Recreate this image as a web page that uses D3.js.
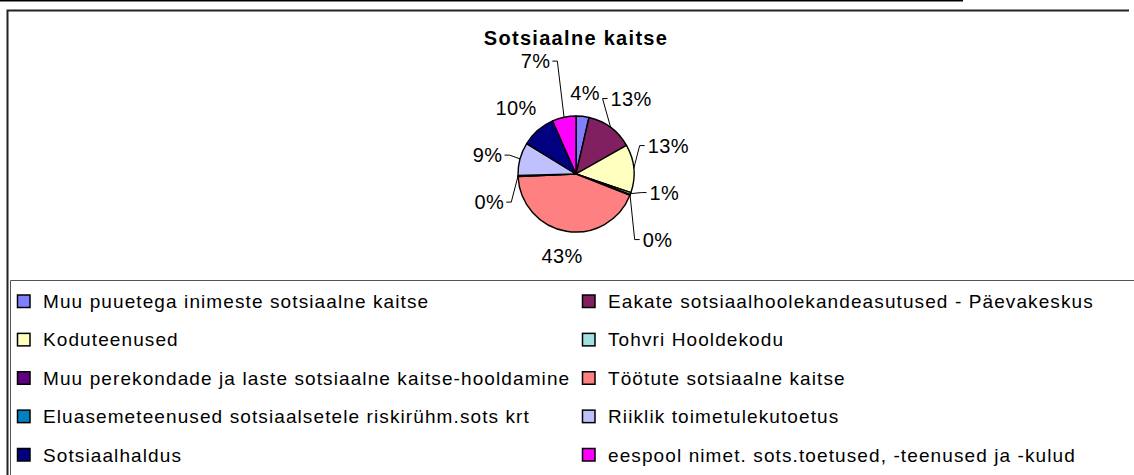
<!DOCTYPE html>
<html>
<head>
<meta charset="utf-8">
<script src="https://cdn.jsdelivr.net/npm/d3@7"></script>
<style>
  body { margin: 0; background: #fff; }
  svg text { font-family: "Liberation Sans", Arial, sans-serif; fill: #000; }
</style>
</head>
<body>
<div class="chart"></div>
<script>
  var title = "Sotsiaalne kaitse";

  var categories = [
    "Muu puuetega inimeste sotsiaalne kaitse",
    "Eakate sotsiaalhoolekandeasutused - Päevakeskus",
    "Koduteenused",
    "Tohvri Hooldekodu",
    "Muu perekondade ja laste sotsiaalne kaitse-hooldamine",
    "Töötute sotsiaalne kaitse",
    "Eluasemeteenused sotsiaalsetele riskirühm.sots krt",
    "Riiklik toimetulekutoetus",
    "Sotsiaalhaldus",
    "eespool nimet. sots.toetused, -teenused ja -kulud"
  ];

  // share of total, %
  var values = [3.6, 13.2, 13.4, 0.6, 0.2, 43.3, 0.3, 9.2, 9.6, 6.6];

  var colors = ["#8080ff", "#802060", "#ffffc0", "#a0e0e0", "#600080",
                "#ff8080", "#0080c0", "#c0c0ff", "#000080", "#ff00ff"];

  var width = 1134, height = 475;
  var cx = 576, cy = 174, radius = 58;
  var labelR = 70, minR = 74, rowGap = 47, padX = 8.3, sideGap = 20;

  var svg = d3.select(".chart").append("svg")
    .attr("width", width)
    .attr("height", height);

  // frame lines
  svg.append("rect").attr("x", 0).attr("y", 0).attr("width", 963).attr("height", 1.5).attr("fill", "#000");
  svg.append("path").attr("d", "M7.5,475V10.5H1129").attr("fill", "none")
    .attr("stroke", "#222").attr("stroke-width", 2);
  svg.append("path").attr("d", "M10.5,475V280.5H1134").attr("fill", "none")
    .attr("stroke", "#555").attr("stroke-width", 1);

  svg.append("text")
    .attr("x", 576).attr("y", 45)
    .attr("text-anchor", "middle")
    .attr("font-size", 20).attr("font-weight", "bold")
    .attr("letter-spacing", 1.3)
    .text(title);

  var arcs = d3.pie().sort(null).value(function(d){ return d; })(values);
  var arc = d3.arc().innerRadius(0).outerRadius(radius);

  var pieG = svg.append("g").attr("transform", "translate(" + cx + "," + cy + ")");
  pieG.selectAll("path")
    .data(arcs)
    .enter()
    .append("path")
    .attr("d", arc)
    .attr("fill", function(d, i){ return colors[i]; })
    .attr("stroke", "#000")
    .attr("stroke-width", 1.4)
    .attr("stroke-linejoin", "round");

  // labels: default spot just outside the slice, then stacked per side
  var labelG = svg.append("g");
  var labels = arcs.map(function(a, i){
    var mid = (a.startAngle + a.endAngle) / 2;
    var t = labelG.append("text")
      .attr("font-size", 20)
      .attr("letter-spacing", 0.4)
      .attr("text-anchor", "middle")
      .text(Math.round(a.value) + "%");
    var w = t.node().getComputedTextLength(), h = 20;
    var s = Math.sin(mid), c = Math.cos(mid);
    var rr = labelR + Math.abs(s) * w / 2 + Math.abs(c) * h / 2;
    return {i: i, mid: mid, node: t, w: w, h: h,
            right: s >= 0, x: cx + rr * s, y: cy - rr * c, y0: cy - rr * c};
  });

  function xOverlap(a, b){
    return Math.abs(a.x - b.x) < (a.w + b.w) / 2 + padX;
  }

  // push apart labels on the same side that would sit on top of each other
  for (var it = 0; it < 800; it++){
    for (var p = 0; p < labels.length; p++){
      for (var q = p + 1; q < labels.length; q++){
        var a = labels[p], b = labels[q];
        if (a.right !== b.right || !xOverlap(a, b)) continue;
        var dy = b.y - a.y;
        if (Math.abs(dy) >= rowGap) continue;
        var dir = dy > 0 || (dy === 0 && q > p) ? 1 : -1;
        var fix = (rowGap - Math.abs(dy)) / 2 * 0.5;
        a.y -= dir * fix;
        b.y += dir * fix;
      }
    }
  }

  labels.forEach(function(l){ l.moved = Math.abs(l.y - l.y0) > 3; });

  labels.forEach(function(l){
    if (!l.moved) return;
    var sign = l.right ? 1 : -1;
    // keep the moved label clear of the pie
    var yn = Math.max(0, Math.abs(l.y - cy) - l.h / 2);
    var need = yn < minR ? Math.sqrt(minR * minR - yn * yn) : 0;
    var edge = Math.abs(l.x - cx) - l.w / 2;
    if (edge < need) l.x = cx + sign * (need + l.w / 2);
    // and clear of the labels across the top / bottom
    labels.forEach(function(o){
      if (o === l || o.right === l.right) return;
      var gy = Math.abs(o.y - l.y) - (o.h + l.h) / 2;
      var gx = Math.abs(o.x - l.x) - (o.w + l.w) / 2;
      if (gy < rowGap - l.h && gx < sideGap) {
        l.x += sign * (sideGap - gx);
      }
    });
  });

  labels.forEach(function(l){
    l.node.attr("x", l.x).attr("y", l.y + 7);
    if (!l.moved) return;

    var sx = l.right ? l.x - l.w / 2 - 3 : l.x + l.w / 2 + 2;
    var kx = l.right ? sx - 5 : sx + 5;
    var px = cx + radius * Math.sin(l.mid), py = cy - radius * Math.cos(l.mid);
    labelG.append("path")
      .attr("d", "M" + sx + "," + l.y + "H" + kx + "L" + px + "," + py)
      .attr("fill", "none")
      .attr("stroke", "#000")
      .attr("stroke-width", 1);
  });

  // legend, two columns, row by row
  var col = d3.scalePoint().domain([0, 1]).range([17.5, 582.5]);
  var row = d3.scalePoint().domain(d3.range(5)).range([301.5, 455]);

  var legend = svg.append("g").selectAll("g")
    .data(categories)
    .enter()
    .append("g")
    .attr("transform", function(d, i){
      return "translate(" + col(i % 2) + "," + row(Math.floor(i / 2)) + ")";
    });

  legend.append("rect")
    .attr("x", 0).attr("y", -6.5)
    .attr("width", 12.5).attr("height", 12.5)
    .attr("fill", function(d, i){ return colors[i]; })
    .attr("stroke", "#000")
    .attr("stroke-width", 1.5);

  legend.append("text")
    .attr("x", 25.5).attr("y", 6.5)
    .attr("font-size", 19)
    .attr("letter-spacing", 1.1)
    .text(function(d){ return d; });
</script>
</body>
</html>
